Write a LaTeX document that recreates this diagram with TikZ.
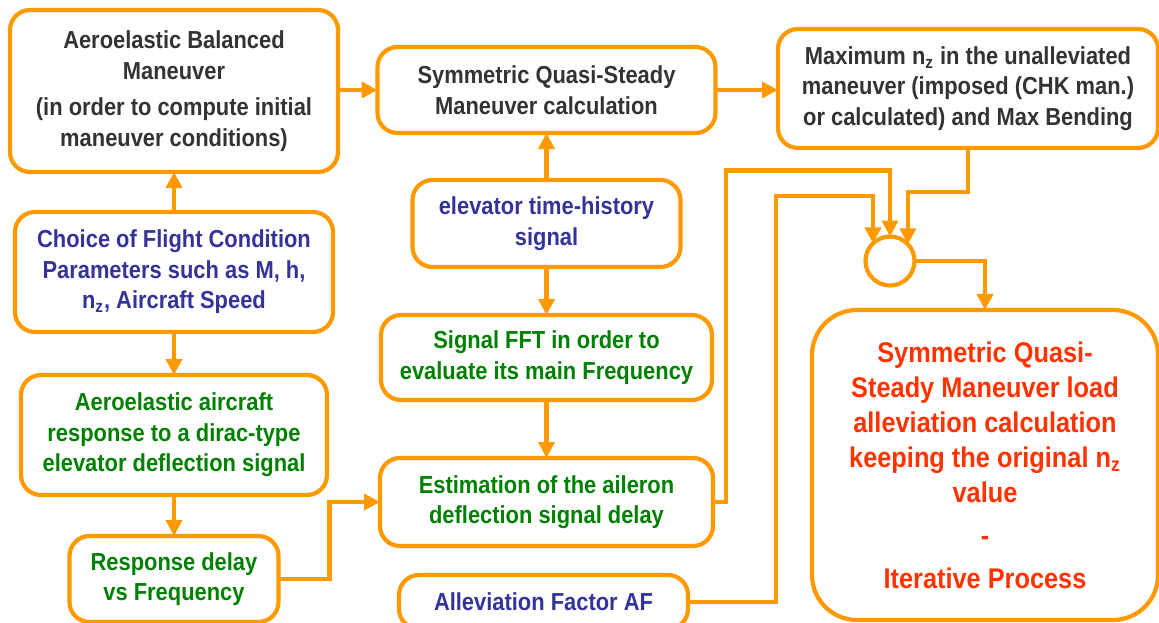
\documentclass[tikz,border=0pt]{standalone}
\usepackage{fontspec}
\setmainfont[FakeStretch=0.89]{Liberation Sans}
\usetikzlibrary{calc,arrows.meta}
\definecolor{lineorange}{HTML}{FF9900}
\definecolor{txtgray}{HTML}{333333}
\definecolor{txtblue}{HTML}{333399}
\definecolor{txtgreen}{HTML}{008000}
\definecolor{txtred}{HTML}{FF3300}
\tikzset{
  box/.style={draw=lineorange,line width=2.4pt,rounded corners=4mm,fill=white,align=center,inner sep=0pt,outer sep=0pt,font=\fontsize{14}{17.4}\selectfont\bfseries},
  arr/.style={draw=lineorange,line width=2.4pt,-{Triangle[length=3.2mm,width=3.2mm]}},
}
\begin{document}
\begin{tikzpicture}[x=0.2mm,y=-0.2mm]
        \useasboundingbox (0,0) rectangle (1159,623);
        \clip (0,0) rectangle (1159,623);
        % left column
        \node[box,text=txtgray,minimum width=65.6mm,minimum height=32.4mm] (bal) at (174,91) {Aeroelastic Balanced\\Maneuver\\[1.2mm](in order to compute initial\\maneuver conditions)};
        \node[box,text=txtblue,minimum width=63.6mm,minimum height=24mm] (choice) at (174,272) {Choice of Flight Condition\\Parameters such as M, h,\\n\textsubscript{z}, Aircraft Speed};
        \node[box,text=txtgreen,minimum width=61.2mm,minimum height=24mm] (resp) at (174,435) {Aeroelastic aircraft\\response to a dirac-type\\elevator deflection signal};
        \node[box,text=txtgreen,minimum width=41.8mm,minimum height=17.2mm] (delay) at (174,579) {Response delay\\vs Frequency};
        % middle column
        \node[box,text=txtgray,minimum width=67.6mm,minimum height=17.2mm] (sqm) at (546.5,90) {Symmetric Quasi-Steady\\Maneuver calculation};
        \node[box,text=txtblue,minimum width=53.6mm,minimum height=17.4mm] (elev) at (546.5,223.5) {elevator time-history\\signal};
        \node[box,text=txtgreen,minimum width=66.2mm,minimum height=17mm] (fft) at (546.5,357.5) {Signal FFT in order to\\evaluate its main Frequency};
        \node[box,text=txtgreen,minimum width=66.6mm,minimum height=17.6mm] (est) at (546.5,502) {Estimation of the aileron\\deflection signal delay};
        \node[box,text=txtblue,minimum width=57.8mm,minimum height=10.8mm] (af) at (543.5,602) {Alleviation Factor AF};
        % right column
        \node[box,text=txtgray,minimum width=76mm,minimum height=23.8mm] (maxnz) at (968,88.5) {Maximum n\textsubscript{z} in the unalleviated\\maneuver (imposed (CHK man.)\\or calculated) and Max Bending};
        \node[draw=lineorange,line width=2.4pt,circle,minimum size=9.8mm,inner sep=0pt,outer sep=0pt] (sum) at (890,261) {};
        \node[box,text=txtred,rounded corners=9mm,minimum width=69.2mm,minimum height=62mm,font=\fontsize{16.2}{19.9}\selectfont\bfseries] (alle) at (985,465) {Symmetric Quasi-\\Steady Maneuver load\\alleviation calculation\\keeping the original n\textsubscript{z}\\value\\[1.6mm]-\\[1.6mm]Iterative Process};
        % connectors
        \draw[arr] (bal.east |- sqm.west) -- (sqm.west);
        \draw[arr] (sqm.east) -- (sqm.east -| maxnz.west);
        \draw[arr] (choice.north) -- (bal.south);
        \draw[arr] (choice.south) -- (resp.north);
        \draw[arr] (resp.south) -- (delay.north);
        \draw[arr] (delay.east) -- ++(51,0) |- (est.west);
        \draw[arr] (elev.north) -- (sqm.south);
        \draw[arr] (elev.south) -- (fft.north);
        \draw[arr] (fft.south) -- (est.north);
        \draw[arr] (est.east) -- ++(13,0) |- ($(sum.north)+(0,-66)$) -- (sum.north);
        \draw[arr] (af.east) -- ++(88,0) |- ($(sum.134)+(0,-47)$) -- (sum.134);
        \draw[arr] (maxnz.south) -- ++(0,44) -| (sum.43);
        \draw[arr] (sum.east) -| (alle.north);
    \end{tikzpicture}
\end{document}
